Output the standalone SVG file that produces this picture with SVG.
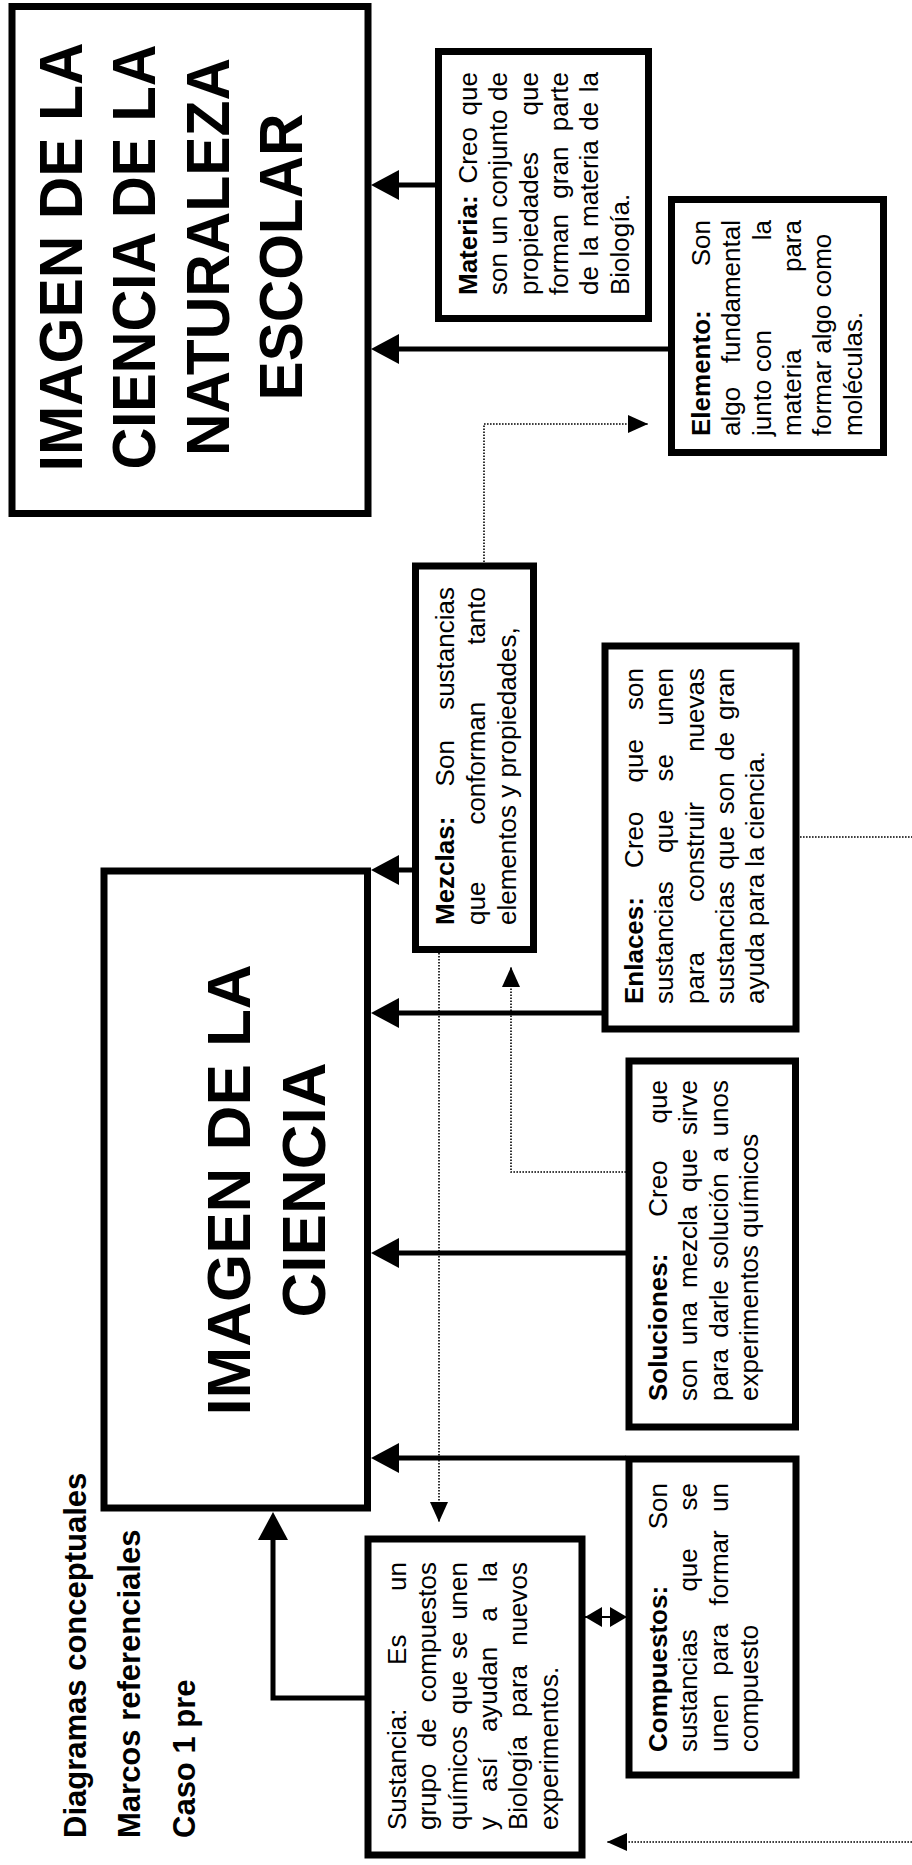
<svg xmlns="http://www.w3.org/2000/svg" width="912" height="1865" viewBox="0 0 912 1865">
  <defs>
    <style>
      .box { fill: #fff; stroke: #000; stroke-width: 7; }
      .txt text { font-family: "Liberation Sans", Arial, sans-serif; font-size: 26px; fill: #000; }
      .txt text.b { font-weight: bold; }
      .txt text.e { text-anchor: end; }
      .title text { font-family: "Liberation Sans", Arial, sans-serif; font-size: 62px; font-weight: bold; fill: #000; text-anchor: middle; }
      .side text { font-family: "Liberation Sans", Arial, sans-serif; font-size: 31px; font-weight: bold; fill: #000; }
      .arrow { fill: none; stroke: #000; stroke-width: 5; marker-end: url(#head); }
      .dot { fill: none; stroke: #000; stroke-width: 1.6; stroke-dasharray: 1.6 1.4; }
      .dot.tip { marker-end: url(#dothead); }
      .twin { fill: none; stroke: #000; stroke-width: 2; marker-start: url(#twinhead); marker-end: url(#twinhead); }
    </style>
    <marker id="head" markerUnits="userSpaceOnUse" markerWidth="28" markerHeight="30" viewBox="0 0 28 30" refX="18" refY="15" orient="auto">
      <path d="M0,0 L28,15 L0,30 z" fill="#000"/>
    </marker>
    <marker id="dothead" markerUnits="userSpaceOnUse" markerWidth="20" markerHeight="20" viewBox="0 0 20 20" refX="20" refY="10" orient="auto">
      <path d="M0,1 L20,10 L0,19 z" fill="#000"/>
    </marker>
    <marker id="twinhead" markerUnits="userSpaceOnUse" markerWidth="17" markerHeight="20" viewBox="0 0 17 20" refX="17" refY="10" orient="auto-start-reverse">
      <path d="M0,0 L17,10 L0,20 z" fill="#000"/>
    </marker>
  </defs>

  <rect width="912" height="1865" fill="#fff"/>

  <!-- side labels -->
  <g id="labels" class="side">
    <g transform="rotate(-90)">
      <text x="-1838" y="86">Diagramas conceptuales</text>
      <text x="-1838" y="140">Marcos referenciales</text>
      <text x="-1838" y="195">Caso 1 pre</text>
    </g>
  </g>

  <!-- connectors -->
  <g id="connectors">
    <path class="arrow" d="M435,185 H381"/>
    <path class="arrow" d="M668,349 H381"/>
    <path class="dot tip" d="M484,562 V424 H648"/>
    <path class="arrow" d="M412,870 H381"/>
    <path class="arrow" d="M602,1013 H381"/>
    <path class="dot" d="M800,837 H912"/>
    <path class="dot tip" d="M626,1172 H511 V967"/>
    <path class="arrow" d="M626,1253 H381"/>
    <path class="dot tip" d="M439,953 V1522"/>
    <path class="arrow" d="M626,1458 H381"/>
    <path class="twin" d="M585,1617 H627"/>
    <path class="arrow" d="M365,1698 H273 V1522"/>
    <path class="dot tip" d="M912,1842 H607"/>
  </g>

  <!-- IMAGEN DE LA CIENCIA DE LA NATURALEZA ESCOLAR -->
  <g id="naturaleza-escolar">
    <rect class="box" x="12" y="6.5" width="356" height="507" stroke-width="6"/>
    <g class="title" transform="rotate(-90)">
      <text x="-257" y="82" textLength="429" lengthAdjust="spacingAndGlyphs">IMAGEN DE LA</text>
      <text x="-257" y="155" textLength="425" lengthAdjust="spacingAndGlyphs">CIENCIA DE LA</text>
      <text x="-257" y="229" textLength="398" lengthAdjust="spacingAndGlyphs">NATURALEZA</text>
      <text x="-257" y="302" textLength="287" lengthAdjust="spacingAndGlyphs">ESCOLAR</text>
    </g>
  </g>

  <!-- IMAGEN DE LA CIENCIA -->
  <g id="imagen-ciencia">
    <rect class="box" x="104" y="871" width="263.5" height="637"/>
    <g class="title" transform="rotate(-90)">
      <text x="-1190" y="250">IMAGEN DE LA</text>
      <text x="-1190" y="325">CIENCIA</text>
    </g>
  </g>

  <!-- Materia -->
  <g id="materia">
    <rect class="box" x="438.5" y="51.5" width="210" height="267"/>
    <g class="txt" transform="rotate(-90)">
      <text class="b" x="-295" y="477">Materia:</text><text x="-183.5" y="477">Creo</text><text class="e" x="-72" y="477">que</text>
      <text x="-295" y="507.3">son</text><text x="-244.8" y="507.3">un</text><text x="-207.6" y="507.3">conjunto</text><text class="e" x="-72" y="507.3">de</text>
      <text x="-295" y="537.6">propiedades</text><text class="e" x="-72" y="537.6">que</text>
      <text x="-295" y="567.9">forman</text><text x="-198.7" y="567.9">gran</text><text class="e" x="-72" y="567.9">parte</text>
      <text x="-295" y="598.2">de</text><text x="-256.6" y="598.2">la</text><text x="-226.9" y="598.2">materia</text><text x="-130.7" y="598.2">de</text><text class="e" x="-72" y="598.2">la</text>
      <text x="-295" y="628.5">Biología.</text>
    </g>
  </g>

  <!-- Elemento -->
  <g id="elemento">
    <rect class="box" x="671.5" y="199.5" width="212" height="253"/>
    <g class="txt" transform="rotate(-90)">
      <text class="b" x="-436" y="710">Elemento:</text><text class="e" x="-220" y="710">Son</text>
      <text x="-436" y="740.3">algo</text><text class="e" x="-220" y="740.3">fundamental</text>
      <text x="-436" y="770.6">junto</text><text x="-372" y="770.6">con</text><text class="e" x="-220" y="770.6">la</text>
      <text x="-436" y="800.9">materia</text><text class="e" x="-220" y="800.9">para</text>
      <text x="-436" y="831.2">formar algo como</text>
      <text x="-436" y="861.5">moléculas.</text>
    </g>
  </g>

  <!-- Mezclas -->
  <g id="mezclas">
    <rect class="box" x="415.5" y="566" width="118" height="383.5"/>
    <g class="txt" transform="rotate(-90)">
      <text class="b" x="-925" y="454">Mezclas:</text><text x="-786.4" y="454">Son</text><text class="e" x="-587" y="454">sustancias</text>
      <text x="-925" y="485">que</text><text x="-824.6" y="485">conforman</text><text class="e" x="-587" y="485">tanto</text>
      <text x="-925" y="516">elementos y propiedades,</text>
    </g>
  </g>

  <!-- Enlaces -->
  <g id="enlaces">
    <rect class="box" x="605" y="646" width="191" height="383"/>
    <g class="txt" transform="rotate(-90)">
      <text class="b" x="-1004" y="643">Enlaces:</text><text x="-867.9" y="643">Creo</text><text x="-782.4" y="643">que</text><text class="e" x="-668" y="643">son</text>
      <text x="-1004" y="673.3">sustancias</text><text x="-853" y="673.3">que</text><text x="-781.4" y="673.3">se</text><text class="e" x="-668" y="673.3">unen</text>
      <text x="-1004" y="703.6">para</text><text x="-901.8" y="703.6">construir</text><text class="e" x="-668" y="703.6">nuevas</text>
      <text x="-1004" y="733.9">sustancias</text><text x="-869.5" y="733.9">que</text><text x="-814.3" y="733.9">son</text><text x="-760.7" y="733.9">de</text><text class="e" x="-668" y="733.9">gran</text>
      <text x="-1004" y="764.2">ayuda para la ciencia.</text>
    </g>
  </g>

  <!-- Soluciones -->
  <g id="soluciones">
    <rect class="box" x="629" y="1061" width="166.5" height="366"/>
    <g class="txt" transform="rotate(-90)">
      <text class="b" x="-1401" y="667">Soluciones:</text><text x="-1216.7" y="667">Creo</text><text class="e" x="-1080" y="667">que</text>
      <text x="-1401" y="697.3">son</text><text x="-1345.3" y="697.3">una</text><text x="-1288.1" y="697.3">mezcla</text><text x="-1192" y="697.3">que</text><text class="e" x="-1080" y="697.3">sirve</text>
      <text x="-1401" y="727.6">para</text><text x="-1337.8" y="727.6">darle</text><text x="-1268.8" y="727.6">solución</text><text x="-1162.2" y="727.6">a</text><text class="e" x="-1080" y="727.6">unos</text>
      <text x="-1401" y="757.9">experimentos químicos</text>
    </g>
  </g>

  <!-- Compuestos -->
  <g id="compuestos">
    <rect class="box" x="629" y="1459" width="167" height="316"/>
    <g class="txt" transform="rotate(-90)">
      <text class="b" x="-1752" y="667">Compuestos:</text><text class="e" x="-1483" y="667">Son</text>
      <text x="-1752" y="697.3">sustancias</text><text x="-1591.6" y="697.3">que</text><text class="e" x="-1483" y="697.3">se</text>
      <text x="-1752" y="727.6">unen</text><text x="-1675.8" y="727.6">para</text><text x="-1605.4" y="727.6">formar</text><text class="e" x="-1483" y="727.6">un</text>
      <text x="-1752" y="757.9">compuesto</text>
    </g>
  </g>

  <!-- Sustancia -->
  <g id="sustancia">
    <rect class="box" x="368" y="1539" width="214" height="316"/>
    <g class="txt" transform="rotate(-90)">
      <text x="-1830" y="406">Sustancia:</text><text x="-1664.9" y="406">Es</text><text class="e" x="-1562" y="406">un</text>
      <text x="-1830" y="436.3">grupo</text><text x="-1747.3" y="436.3">de</text><text class="e" x="-1562" y="436.3">compuestos</text>
      <text x="-1830" y="466.6">químicos</text><text x="-1714.2" y="466.6">que</text><text x="-1659" y="466.6">se</text><text class="e" x="-1562" y="466.6">unen</text>
      <text x="-1830" y="496.9">y</text><text x="-1791.9" y="496.9">así</text><text x="-1732.1" y="496.9">ayudan</text><text x="-1621.7" y="496.9">a</text><text class="e" x="-1562" y="496.9">la</text>
      <text x="-1830" y="527.2">Biología</text><text x="-1717" y="527.2">para</text><text class="e" x="-1562" y="527.2">nuevos</text>
      <text x="-1830" y="557.5">experimentos.</text>
    </g>
  </g>
</svg>
